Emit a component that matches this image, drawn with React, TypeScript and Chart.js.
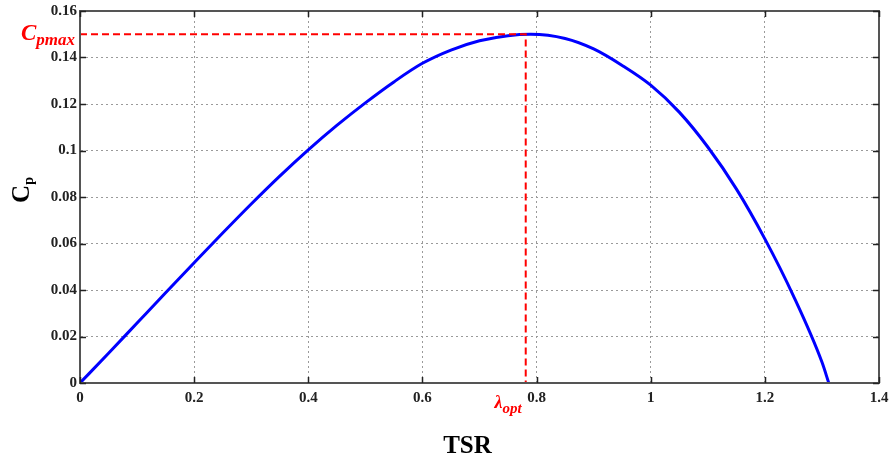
import React, { useEffect, useRef } from "react";
import { Chart, registerables } from "chart.js";

Chart.register(...registerables);

const tsr = [0, 0.05, 0.1, 0.15, 0.2, 0.25, 0.3, 0.35, 0.4, 0.45, 0.5, 0.55, 0.6, 0.65, 0.7, 0.75, 0.79, 0.85, 0.9, 0.95, 1.0, 1.05, 1.1, 1.15, 1.2, 1.25, 1.3, 1.312];
const cp = [0, 0.0128, 0.0258, 0.0388, 0.0517, 0.0645, 0.077, 0.089, 0.1003, 0.1108, 0.1205, 0.1295, 0.1375, 0.1432, 0.1472, 0.1494, 0.15, 0.1482, 0.1437, 0.1366, 0.1281, 0.1165, 0.1015, 0.0835, 0.062, 0.0375, 0.009, 0];
const lambdaOpt = 0.781;
const cpMax = 0.15;
const xTicks = [0, 0.2, 0.4, 0.6, 0.8, 1, 1.2, 1.4];
const yTicks = [0, 0.02, 0.04, 0.06, 0.08, 0.1, 0.12, 0.14, 0.16];

const SERIF = '"Liberation Serif", "Times New Roman", serif';

const fmt = (v: number) => String(Number(Number(v).toFixed(3)));

const overlay = {
  id: "overlay",
  afterDraw(chart: any) {
    const { ctx, chartArea: a, scales } = chart;
    const xs = scales.x;
    const ys = scales.y;
    ctx.save();
    // frame
    ctx.strokeStyle = "#555";
    ctx.lineWidth = 2;
    ctx.strokeRect(a.left, a.top, a.right - a.left, a.bottom - a.top);
    // inner ticks
    ctx.lineWidth = 1.5;
    ctx.strokeStyle = "#222";
    const tl = 6;
    xTicks.forEach((v) => {
      const px = Math.round(xs.getPixelForValue(v)) + 0.5;
      ctx.beginPath();
      ctx.moveTo(px, a.bottom);
      ctx.lineTo(px, a.bottom - tl);
      ctx.moveTo(px, a.top);
      ctx.lineTo(px, a.top + tl);
      ctx.stroke();
    });
    yTicks.forEach((v) => {
      const py = Math.round(ys.getPixelForValue(v)) + 0.5;
      ctx.beginPath();
      ctx.moveTo(a.left, py);
      ctx.lineTo(a.left + tl, py);
      ctx.moveTo(a.right, py);
      ctx.lineTo(a.right - tl, py);
      ctx.stroke();
    });
    // Cpmax label
    const yMax = ys.getPixelForValue(cpMax);
    ctx.fillStyle = "#ff0000";
    ctx.textAlign = "left";
    ctx.textBaseline = "alphabetic";
    ctx.font = `italic bold 23px ${SERIF}`;
    ctx.fillText("C", 21, yMax + 6);
    const cw = ctx.measureText("C").width;
    ctx.font = `italic bold 17px ${SERIF}`;
    ctx.fillText("pmax", 21 + cw, yMax + 11);
    // lambda opt label
    const xOpt = xs.getPixelForValue(lambdaOpt);
    const lamFont = `italic bold 18px ${SERIF}`;
    const subFont = `italic bold 15px ${SERIF}`;
    ctx.font = lamFont;
    const lw = ctx.measureText("λ").width;
    ctx.font = subFont;
    const ow = ctx.measureText("opt").width;
    const start = xOpt - 4 - lw - ow;
    ctx.font = lamFont;
    ctx.fillText("λ", start, a.bottom + 25);
    ctx.font = subFont;
    ctx.fillText("opt", start + lw, a.bottom + 30);
    // axis titles
    ctx.fillStyle = "#000";
    ctx.font = `bold 25px ${SERIF}`;
    ctx.textAlign = "center";
    ctx.fillText("TSR", (a.left + a.right) / 2 - 12, 453);
    ctx.translate(29, 190);
    ctx.rotate(-Math.PI / 2);
    ctx.textAlign = "left";
    ctx.font = `bold 25px ${SERIF}`;
    const cW = ctx.measureText("C").width;
    ctx.font = `bold 14px ${SERIF}`;
    const pW = ctx.measureText("p").width;
    const s0 = -(cW + pW) / 2;
    ctx.font = `bold 25px ${SERIF}`;
    ctx.fillText("C", s0, 0);
    ctx.font = `bold 14px ${SERIF}`;
    ctx.fillText("p", s0 + cW, 4);
    ctx.restore();
  },
};

export default function App() {
  const ref = useRef<HTMLCanvasElement | null>(null);
  useEffect(() => {
    if (!ref.current) return;
    const curve = tsr.map((x, i) => ({ x, y: cp[i] }));
    const marker = [
      { x: 0, y: cpMax },
      { x: lambdaOpt, y: cpMax },
      { x: lambdaOpt, y: 0 },
    ];
    const chart = new Chart(ref.current, {
      type: "line",
      data: {
        datasets: [
          {
            data: marker,
            borderColor: "#ff0000",
            borderWidth: 2,
            borderDash: [7, 4],
            pointRadius: 0,
            tension: 0,
            fill: false,
          },
          {
            data: curve,
            borderColor: "#0000ff",
            borderWidth: 3,
            pointRadius: 0,
            cubicInterpolationMode: "monotone",
            fill: false,
          },
        ],
      },
      options: {
        animation: false,
        responsive: false,
        maintainAspectRatio: false,
        layout: { padding: { top: 11, right: 11, left: 0, bottom: 0 } },
        plugins: { legend: { display: false }, tooltip: { enabled: false }, title: { display: false } },
        scales: {
          x: {
            type: "linear",
            min: 0,
            max: 1.4,
            afterBuildTicks: (s: any) => {
              s.ticks = xTicks.map((v) => ({ value: v }));
            },
            afterFit: (s: any) => {
              s.height = 76;
              s.paddingLeft = 0;
              s.paddingRight = 0;
            },
            ticks: {
              padding: 6,
              color: "#222",
              font: { family: SERIF, size: 15, weight: "bold" },
              maxRotation: 0,
              autoSkip: false,
              callback: (v: any) => fmt(v),
            },
            grid: { color: "#9a9a9a", lineWidth: 1, drawTicks: false },
            border: { display: true, color: "#555", width: 2, dash: [2, 3] },
          },
          y: {
            type: "linear",
            min: 0,
            max: 0.16,
            afterBuildTicks: (s: any) => {
              s.ticks = yTicks.map((v) => ({ value: v }));
            },
            afterFit: (s: any) => {
              s.width = 80;
              s.paddingTop = 0;
              s.paddingBottom = 0;
            },
            ticks: {
              padding: 3,
              color: "#222",
              font: { family: SERIF, size: 15, weight: "bold" },
              autoSkip: false,
              callback: (v: any) => fmt(v),
            },
            grid: { color: "#9a9a9a", lineWidth: 1, drawTicks: false },
            border: { display: true, color: "#555", width: 2, dash: [2, 3] },
          },
        },
      },
      plugins: [overlay],
    } as any);
    return () => chart.destroy();
  }, []);
  return (
    <div style={{ position: "fixed", left: 0, top: 0, width: 890, height: 459, background: "#fff" }}>
      <canvas ref={ref} width={890} height={459} style={{ width: 890, height: 459, display: "block" }} />
    </div>
  );
}
